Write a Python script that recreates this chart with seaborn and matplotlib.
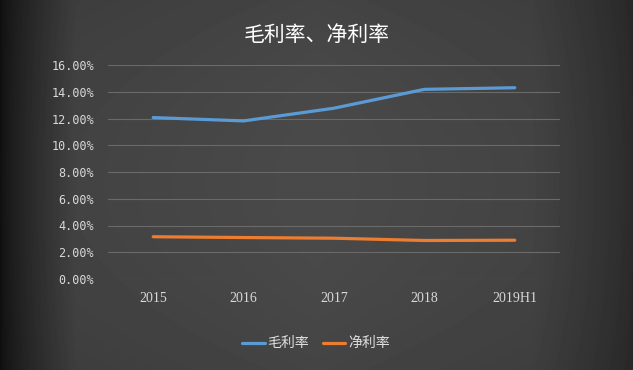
import numpy as np
import pandas as pd
import matplotlib
matplotlib.use("Agg")
import matplotlib.pyplot as plt
import seaborn as sns

# data
periods = ["2015", "2016", "2017", "2018", "2019H1"]
gross_margin = [0.1207, 0.1182, 0.1277, 0.1418, 0.1430]
net_margin = [0.0316, 0.0310, 0.0305, 0.0288, 0.0290]
series_names = ["毛利率", "净利率"]
y_ticks = [0.0, 0.02, 0.04, 0.06, 0.08, 0.10, 0.12, 0.14, 0.16]

df = pd.DataFrame({
    "period": periods * 2,
    "value": gross_margin + net_margin,
    "series": [series_names[0]] * len(periods) + [series_names[1]] * len(periods),
})

sns.set_theme(style="dark")
plt.rcParams["font.family"] = ["Noto Sans CJK SC", "DejaVu Sans"]

fig = plt.figure(figsize=(6.33, 3.70), dpi=100)

# dark vignette background: near black on the left edge, lighter middle
bg = fig.add_axes([0, 0, 1, 1], zorder=0)
xs = np.linspace(0, 1, 633)
ys = np.linspace(-1, 1, 370)
left = np.clip((xs - 0.0) / 0.12, 0, 1) ** 0.7
right = np.clip((1.0 - xs) / 0.16, 0, 1) ** 0.8
prof = 0.07 + (0.29 - 0.07) * np.minimum(left, 1) * (0.55 + 0.45 * right)
mid = 1 - 0.25 * np.abs(xs - 0.5)
shade = np.outer(1 - 0.08 * ys ** 2, prof * mid)
bg.imshow(shade, cmap="gray", vmin=0, vmax=1, aspect="auto", extent=[0, 1, 0, 1])
bg.set_axis_off()

ax = fig.add_axes([108 / 633, 1 - 279 / 370, 452 / 633, 214 / 370], zorder=1)
ax.patch.set_alpha(0)

palette = {series_names[0]: "#5b9bd5", series_names[1]: "#ed7d31"}
sns.lineplot(data=df, x="period", y="value", hue="series", palette=palette,
             linewidth=2.3, ax=ax, sort=False)

ax.set_xlim(-0.5, len(periods) - 0.5)
ax.set_ylim(0, 0.16)
ax.set_yticks(y_ticks)
ax.set_yticklabels([f"{v * 100:.2f}%" for v in y_ticks], family="DejaVu Sans Mono",
                   fontsize=8.5, color="#d9d9d9")
ax.set_xticks(range(len(periods)))
ax.set_xticklabels(periods, family="Liberation Serif", fontsize=10, color="#d9d9d9")
ax.tick_params(axis="both", length=0)
ax.tick_params(axis="y", pad=10)
ax.tick_params(axis="x", pad=9)
ax.grid(axis="y", color="#6a6a6a", linewidth=0.8)
ax.grid(axis="x", visible=False)
ax.set_axisbelow(True)
for s in ax.spines.values():
    s.set_visible(False)
ax.set_xlabel("")
ax.set_ylabel("")

ax.legend(loc="upper center", bbox_to_anchor=(0.46, -0.21), ncol=2, frameon=False,
          fontsize=10, labelcolor="#e0e0e0", handlelength=1.6, handletextpad=0.2,
          columnspacing=1.0)

fig.text(0.5, 0.905, "毛利率、净利率", ha="center", va="center", fontsize=15,
         color="white")

fig.savefig("out.png", dpi=100)
